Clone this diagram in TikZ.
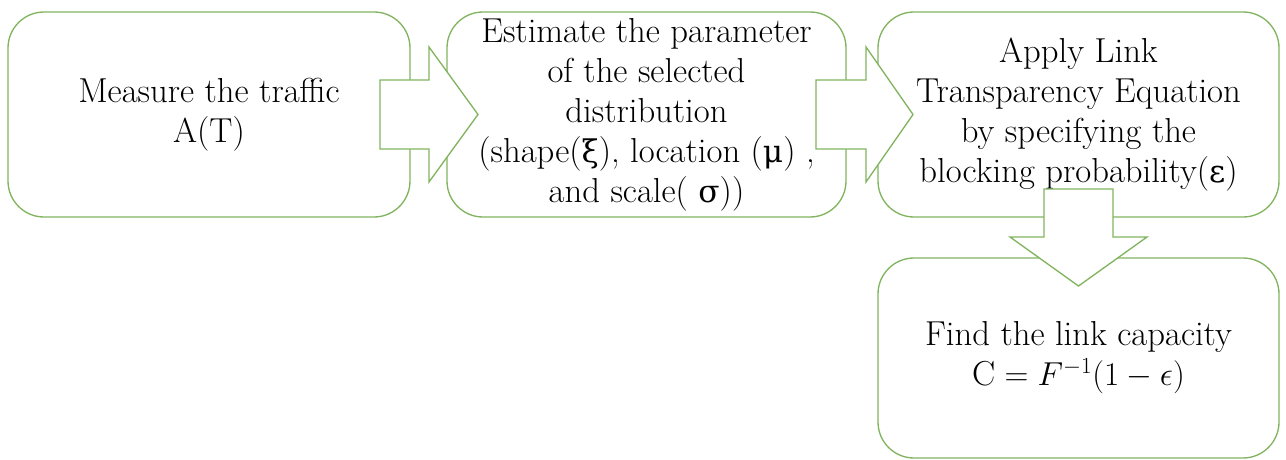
\documentclass[tikz,border=0pt]{standalone}
\usepackage{fontspec}
\newfontfamily\grk{DejaVu Serif}[Scale=0.9]
\definecolor{boxgreen}{RGB}{130,180,95}
\begin{document}
\begin{tikzpicture}[x=0.75pt,y=-0.75pt,
  box/.style={draw=boxgreen, line width=1pt, fill=white, rounded corners=27pt,
    align=center, inner sep=0pt, font=\fontsize{26}{30}\selectfont},
  blockarrow/.style={draw=boxgreen, line width=1pt, fill=white, line join=miter}]
\useasboundingbox (0,0) rectangle (1286,460);
\node[box, minimum width=301.5pt, minimum height=153.75pt] (b1) at (209,114.5)
  {Measure the traffic\\A(T)};
\node[box, minimum width=299.25pt, minimum height=153.75pt] (b2) at (646.5,114.5)
  {Estimate the parameter\\of the selected\\distribution\\(shape({\grk ξ}), location ({\grk μ}) ,\\and scale( {\grk σ}))};
\node[box, minimum width=300.75pt, minimum height=153.75pt] (b3) at (1078.5,114.5)
  {Apply Link\\Transparency Equation\\by specifying the\\blocking probability({\grk ε})};
\node[box, minimum width=300.75pt, minimum height=150pt] (b4) at (1078.5,358)
  {Find the link capacity\\$\mathrm{C} = F^{-1}(1 - \epsilon)$};
% block arrows
\draw[blockarrow] (380,80) coordinate (a1s) -- (429,80) -- (429,47) -- (478,114.5) coordinate (a1t)
  -- (429,182) -- (429,149) -- (380,149) -- cycle;
\draw[blockarrow] (816,80) coordinate (a2s) -- (866,80) -- (866,47) -- (913,114.5) coordinate (a2t)
  -- (866,182) -- (866,149) -- (816,149) -- cycle;
\draw[blockarrow] (1044,189) coordinate (a3s) -- (1113,189) -- (1113,237) -- (1147,237) -- (1078.5,286) coordinate (a3t)
  -- (1010,237) -- (1044,237) -- cycle;
\end{tikzpicture}
\end{document}
